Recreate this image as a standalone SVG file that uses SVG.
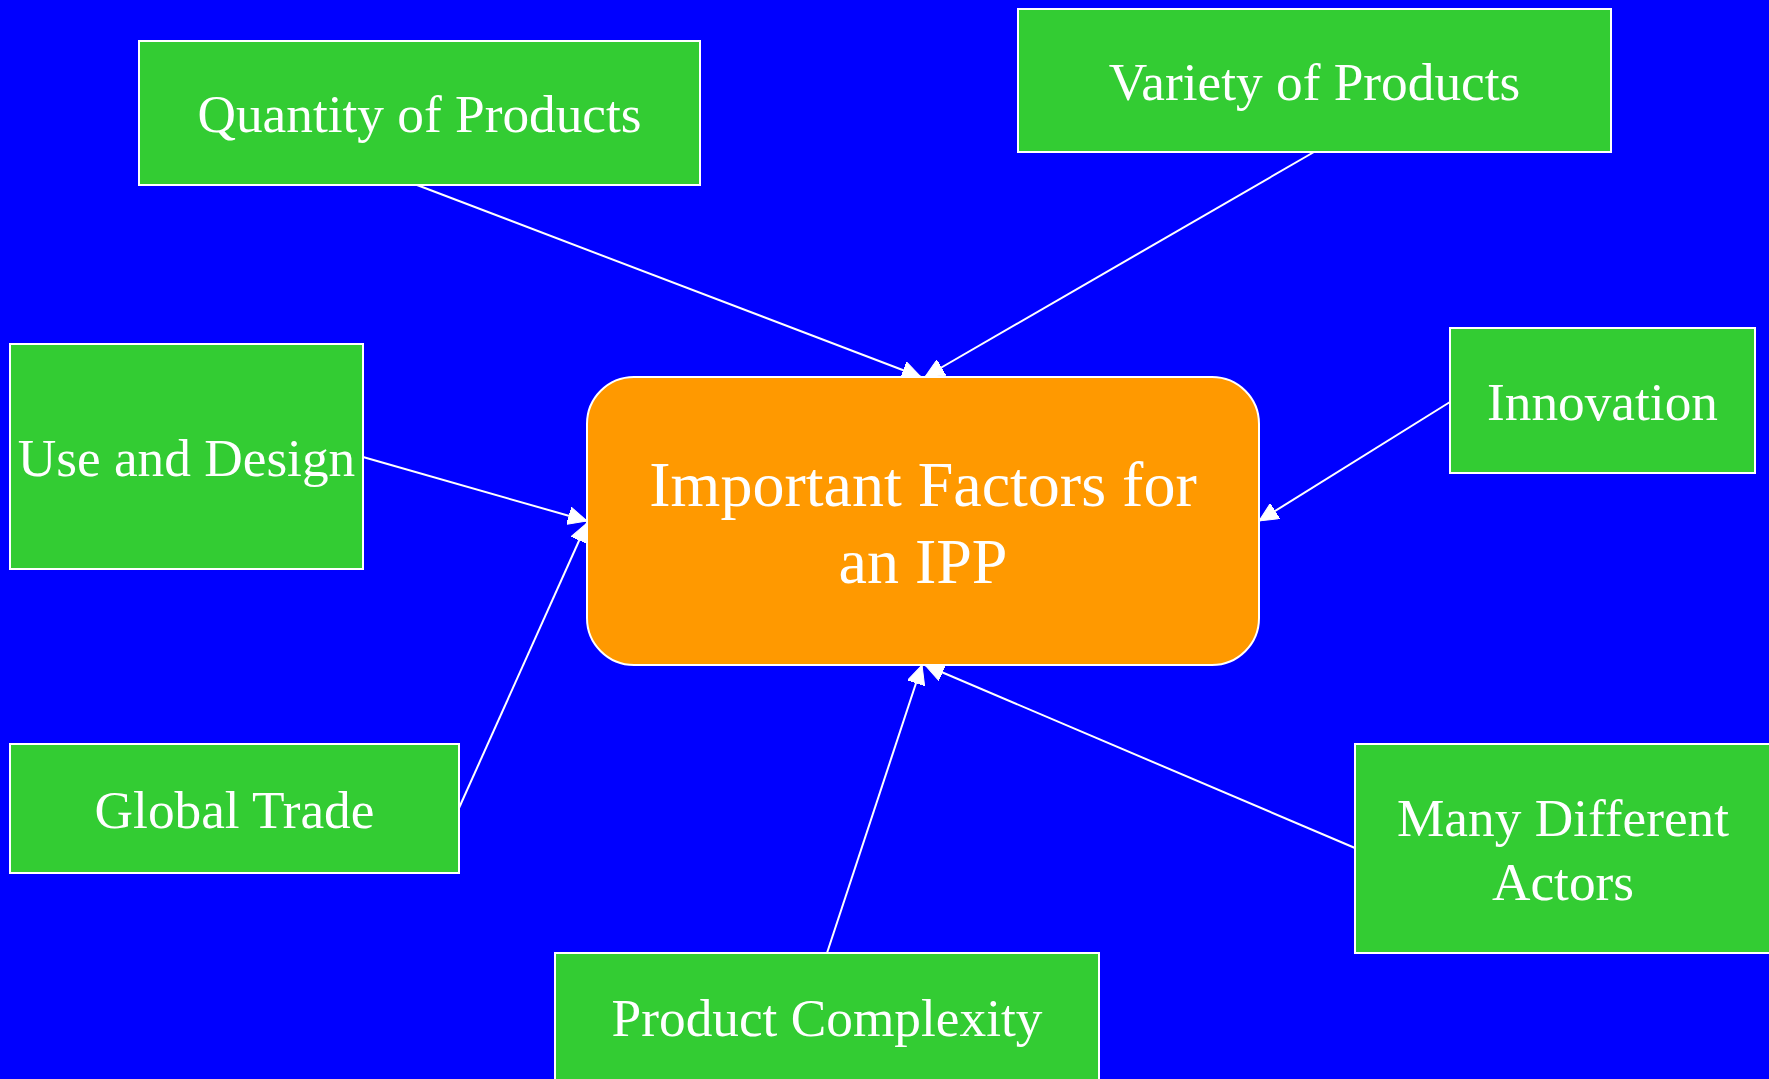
<svg xmlns="http://www.w3.org/2000/svg" width="1769" height="1079" viewBox="0 0 1769 1079">
<style>
.box{fill:#33cc33;stroke:#ffffff;stroke-width:2}
.center{fill:#ff9900;stroke:#ffffff;stroke-width:2}
.lbl{font-family:"Liberation Serif","Times New Roman",serif;font-size:53.3px;fill:#ffffff;text-anchor:middle}
.big{font-size:64px}
.edge{stroke:#ffffff;stroke-width:2;fill:none;marker-end:url(#ah)}
</style>
<defs>
<marker id="ah" markerUnits="userSpaceOnUse" markerWidth="20" markerHeight="18" refX="19" refY="9" orient="auto">
<path d="M0,0 L19,9 L0,18 Z" fill="#ffffff" stroke="#ffffff" stroke-width="1"/>
</marker>
</defs>
<rect x="0" y="0" width="1769" height="1079" fill="#0000ff"/>
<g id="connectors">
<line class="edge" x1="417" y1="185" x2="921" y2="377"/>
<line class="edge" x1="1314" y1="152" x2="925" y2="377"/>
<line class="edge" x1="363" y1="457" x2="587" y2="521"/>
<line class="edge" x1="459" y1="808" x2="587" y2="523"/>
<line class="edge" x1="1450" y1="402" x2="1259" y2="521"/>
<line class="edge" x1="827" y1="953" x2="922" y2="665"/>
<line class="edge" x1="1355" y1="848" x2="925" y2="665"/>
</g>
<g id="center">
<rect class="center" x="587" y="377" width="672" height="288" rx="47" ry="47"/>
<text class="lbl big" x="923" y="506">Important Factors for</text>
<text class="lbl big" x="923" y="583">an IPP</text>
</g>
<g id="quantity">
<rect class="box" x="139" y="41" width="561" height="144"/>
<text class="lbl" x="419.5" y="132">Quantity of Products</text>
</g>
<g id="variety">
<rect class="box" x="1018" y="9" width="593" height="143"/>
<text class="lbl" x="1314.5" y="100">Variety of Products</text>
</g>
<g id="use">
<rect class="box" x="10" y="344" width="353" height="225"/>
<text class="lbl" x="186.5" y="476">Use and Design</text>
</g>
<g id="innovation">
<rect class="box" x="1450" y="328" width="305" height="145"/>
<text class="lbl" x="1602.5" y="420">Innovation</text>
</g>
<g id="global">
<rect class="box" x="10" y="744" width="449" height="129"/>
<text class="lbl" x="234.5" y="828">Global Trade</text>
</g>
<g id="complexity">
<rect class="box" x="555" y="953" width="544" height="150"/>
<text class="lbl" x="827" y="1036">Product Complexity</text>
</g>
<g id="actors">
<rect class="box" x="1355" y="744" width="420" height="209"/>
<text class="lbl" x="1563" y="836">Many Different</text>
<text class="lbl" x="1563" y="900">Actors</text>
</g>
</svg>
